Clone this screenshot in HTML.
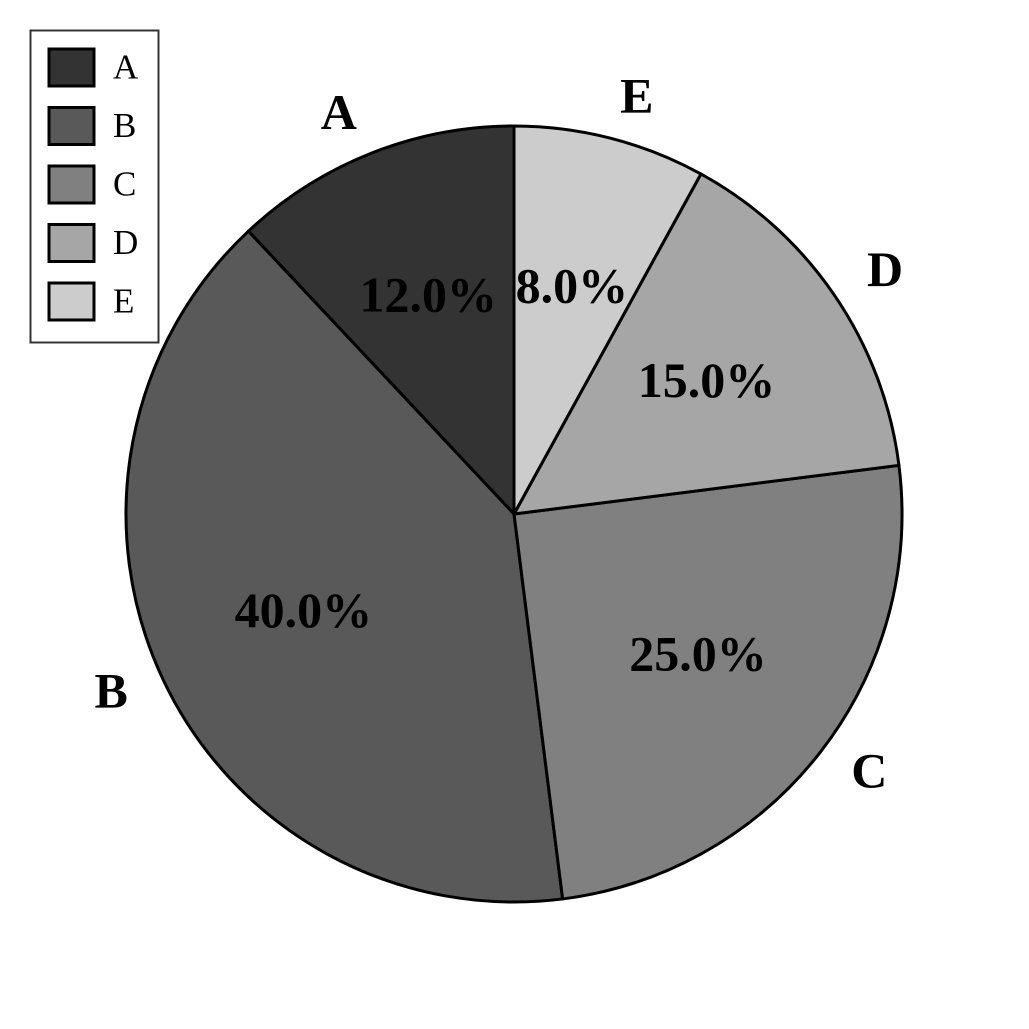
<!DOCTYPE html>
<html><head><meta charset="utf-8"><style>
html,body{margin:0;padding:0;background:#fff;}
svg{display:block;font-family:"Liberation Serif",serif;}
</style></head><body>
<svg id="chart" width="1029" height="1029" viewBox="0 0 1029 1029">
<rect width="1029" height="1029" fill="#fff"/>
<g id="slices"></g>
<g id="labels"></g>
<g id="legend"></g>
</svg>
<script>
const categories = ["A","B","C","D","E"];
const values = [12, 40, 25, 15, 8];
const colors = ["#333333","#595959","#808080","#a6a6a6","#cccccc"];
const NS="http://www.w3.org/2000/svg";
const cx=514, cy=514, r=388;
const total=values.reduce((a,b)=>a+b,0);
function pt(deg,rad){const a=deg*Math.PI/180;return [cx+rad*Math.cos(a), cy-rad*Math.sin(a)];}
const gS=document.getElementById('slices'), gL=document.getElementById('labels'), gG=document.getElementById('legend');
let start=90;
categories.forEach((c,i)=>{
  const sweep=values[i]/total*360, end=start+sweep;
  const [x1,y1]=pt(start,r),[x2,y2]=pt(end,r);
  const p=document.createElementNS(NS,'path');
  p.setAttribute('d',`M${cx},${cy} L${x1},${y1} A${r},${r} 0 ${sweep>180?1:0} 0 ${x2},${y2} Z`);
  p.setAttribute('fill',colors[i]);p.setAttribute('stroke','#000');p.setAttribute('stroke-width','3');p.setAttribute('stroke-linejoin','round');
  
  
  gS.appendChild(p);
  const mid=(start+end)/2;
  const [px,py]=pt(mid,r*0.6);
  const t=document.createElementNS(NS,'text');
  t.setAttribute('x',px);t.setAttribute('y',py-3);t.setAttribute('text-anchor','middle');t.setAttribute('dominant-baseline','central');
  t.setAttribute('font-size','50');t.setAttribute('font-weight','bold');
  t.textContent=(values[i]/total*100).toFixed(1)+'%';
  
  
  gL.appendChild(t);
  const [lx,ly]=pt(mid,r*1.1);
  const l=document.createElementNS(NS,'text');
  l.setAttribute('x',lx);l.setAttribute('y',ly-5);l.setAttribute('text-anchor',lx<cx?'end':'start');l.setAttribute('dominant-baseline','central');
  l.setAttribute('font-size','50');l.setAttribute('font-weight','bold');
  l.textContent=c;
  
  
  gL.appendChild(l);
  start=end;
});
const box=document.createElementNS(NS,'rect');
box.setAttribute('x',30.5);box.setAttribute('y',30.5);box.setAttribute('width',128);box.setAttribute('height',312);
box.setAttribute('fill','#fff');box.setAttribute('stroke','#333');box.setAttribute('stroke-width','2');


gG.appendChild(box);
categories.forEach((c,i)=>{
  const y=49+i*58.5;
  const s=document.createElementNS(NS,'rect');
  s.setAttribute('x',49);s.setAttribute('y',y);s.setAttribute('width',45);s.setAttribute('height',37);
  s.setAttribute('fill',colors[i]);s.setAttribute('stroke','#000');s.setAttribute('stroke-width','3');
  
  
  gG.appendChild(s);
  const t=document.createElementNS(NS,'text');
  t.setAttribute('x',113);t.setAttribute('y',y+18);t.setAttribute('dominant-baseline','central');t.setAttribute('font-size','35');
  t.textContent=c;
  
  
  gG.appendChild(t);
});
</script>
</body></html>
